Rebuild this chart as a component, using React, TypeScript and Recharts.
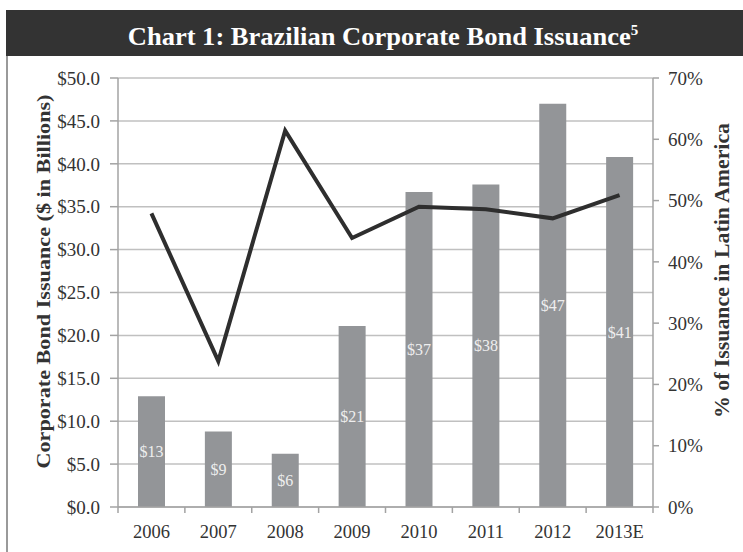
import React from 'react';
import { ComposedChart, Bar, Line, XAxis, YAxis, CartesianGrid, LabelList } from 'recharts';

const years = ['2006', '2007', '2008', '2009', '2010', '2011', '2012', '2013E'];
const issuance = [12.9, 8.8, 6.2, 21.1, 36.7, 37.6, 47.0, 40.8];
const latamShare = [47.9, 23.8, 61.4, 43.9, 49.0, 48.6, 47.1, 50.9];
const leftTicks = [0, 5, 10, 15, 20, 25, 30, 35, 40, 45, 50];
const rightTicks = [0, 10, 20, 30, 40, 50, 60, 70];

const data = years.map((year, i) => ({ year, issuance: issuance[i], share: latamShare[i] }));

const FONT = '"Liberation Serif", "Times New Roman", serif';
const AXIS = '#a3a3a3';

const XTick = (props: any) => {
  const { x, y, payload, index, visibleTicksCount } = props;
  const off = payload && typeof payload.offset === 'number' ? payload.offset : 0;
  const last = index === (visibleTicksCount ?? years.length) - 1;
  return (
    <g>
      <line x1={x - off} x2={x - off} y1={y} y2={y + 6} stroke={AXIS} strokeWidth={1.5} />
      {last && <line x1={x + off} x2={x + off} y1={y} y2={y + 6} stroke={AXIS} strokeWidth={1.5} />}
      <text x={x} y={y + 31} textAnchor="middle" fill="#333" fontSize={18.5} fontFamily={FONT}>
        {payload.value}
      </text>
    </g>
  );
};

const LeftLabel = (props: any) => {
  const { viewBox } = props;
  const cy = viewBox.y + viewBox.height / 2 - 11;
  const cx = 43;
  return (
    <text x={cx} y={cy} transform={`rotate(-90 ${cx} ${cy})`} textAnchor="middle" dominantBaseline="central"
      fill="#333" fontSize={19} fontWeight="bold" fontFamily={FONT} textLength={374} lengthAdjust="spacingAndGlyphs">
      Corporate Bond Issuance ($ in Billions)
    </text>
  );
};

const RightLabel = (props: any) => {
  const { viewBox } = props;
  const cy = viewBox.y + viewBox.height / 2 - 22;
  const cx = 722;
  return (
    <text x={cx} y={cy} transform={`rotate(-90 ${cx} ${cy})`} textAnchor="middle" dominantBaseline="central"
      fill="#333" fontSize={20} fontWeight="bold" fontFamily={FONT} textLength={295} lengthAdjust="spacingAndGlyphs">
      % of Issuance in Latin America
    </text>
  );
};

export default function App() {
  return (
    <div style={{ position: 'absolute', left: 0, top: 0, width: 743, height: 552, background: '#fff', overflow: 'hidden' }}>
      <ComposedChart width={743} height={552} data={data} margin={{ top: 78, right: 20, bottom: 5, left: 48 }}>
        <CartesianGrid yAxisId="left" vertical={false} stroke="#c0c0c0" strokeWidth={1.5} />
        <XAxis dataKey="year" height={40} axisLine={{ stroke: AXIS, strokeWidth: 1.5 }} tickLine={false}
          tickSize={0} tickMargin={0} tick={<XTick />} interval={0} />
        <YAxis yAxisId="left" width={70} domain={[0, 50]} ticks={leftTicks} interval={0}
          tickFormatter={(v: number) => `$${v.toFixed(1)}`} tickSize={8} tickMargin={10}
          axisLine={{ stroke: AXIS, strokeWidth: 1.5 }} tickLine={{ stroke: AXIS, strokeWidth: 1.5 }}
          tick={{ fill: '#333', fontSize: 19, fontFamily: FONT }} label={<LeftLabel />} />
        <YAxis yAxisId="right" orientation="right" width={70} domain={[0, 70]} ticks={rightTicks} interval={0}
          tickFormatter={(v: number) => `${v}%`} tickSize={6} tickMargin={9}
          axisLine={{ stroke: AXIS, strokeWidth: 1.5 }} tickLine={{ stroke: AXIS, strokeWidth: 1.5 }}
          tick={{ fill: '#333', fontSize: 19, fontFamily: FONT, textAnchor: 'start' }} label={<RightLabel />} />
        <Bar yAxisId="left" dataKey="issuance" fill="#939598" barSize={27} isAnimationActive={false}>
          <LabelList dataKey="issuance" position="center" formatter={(v: any) => `$${Math.round(Number(v))}`}
            fill="#eeeeee" fontSize={16} fontFamily={FONT} />
        </Bar>
        <Line yAxisId="right" type="linear" dataKey="share" stroke="#2e2e2e" strokeWidth={4} dot={false}
          activeDot={false} strokeLinejoin="miter" isAnimationActive={false} />
      </ComposedChart>
      <div style={{ position: 'absolute', left: 6, top: 10, width: 737, height: 46, background: '#333333' }}>
        <svg width={737} height={46}>
          <text x={377} y={35} textAnchor="middle" fill="#ffffff" fontSize={25.5} fontWeight="bold" fontFamily={FONT}>
            <tspan textLength={503} lengthAdjust="spacingAndGlyphs">Chart 1:  Brazilian Corporate Bond Issuance</tspan>
            <tspan fontSize={15} dy={-10}>5</tspan>
          </text>
        </svg>
      </div>
      <div style={{ position: 'absolute', left: 6, top: 56, width: 0, height: 496, borderLeft: '2px solid #9a9a9a' }} />
    </div>
  );
}
